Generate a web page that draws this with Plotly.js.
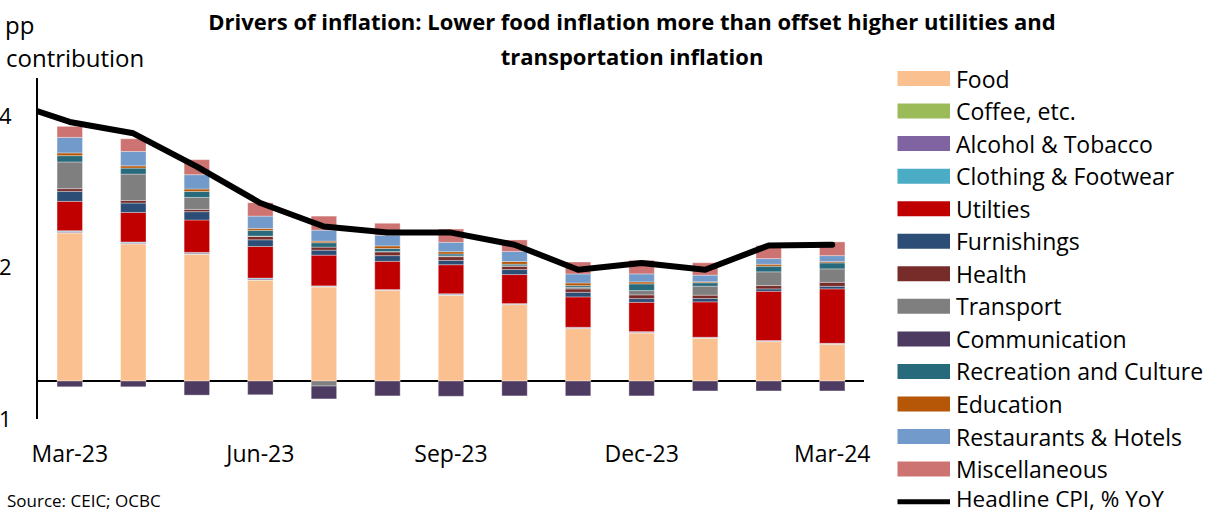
<!DOCTYPE html>
<html>
<head>
<meta charset="utf-8">
<script src="https://cdn.plot.ly/plotly-3.0.1.min.js"></script>
<style>
  body { margin: 0; padding: 0; background: #fff; }
  #chart { width: 1209px; height: 513px; }
  .scatterlayer .js-line { stroke-linecap: round !important; stroke-linejoin: round !important; }
</style>
</head>
<body>
<div id="chart"></div>
<script>
// ---- Data (pp contribution) ----
const categories = ["Mar-23","Apr-23","May-23","Jun-23","Jul-23","Aug-23","Sep-23","Oct-23","Nov-23","Dec-23","Jan-24","Feb-24","Mar-24"];
const cpiMonths = ["Feb-23","Mar-23","Apr-23","May-23","Jun-23","Jul-23","Aug-23","Sep-23","Oct-23","Nov-23","Dec-23","Jan-24","Feb-24","Mar-24"];
const tickLabels = ["Mar-23","Jun-23","Sep-23","Dec-23","Mar-24"];
const yTickVals = [-0.5, 1.5, 3.5];
const yTickText = ["1", "2", "4"];

const food          = [1.955, 1.810, 1.673, 1.330, 1.243, 1.198, 1.132, 1.009, 0.693, 0.636, 0.565, 0.521, 0.485];
const coffee        = [0.005, 0.005, 0.005, 0.005, 0.003, 0.002, 0.004, 0.003, 0.003, 0.003, 0.003, 0.003, 0.003];
const alcohol       = [0.015, 0.013, 0.013, 0.015, 0.007, 0.005, 0.011, 0.007, 0.009, 0.009, 0.007, 0.007, 0.007];
const clothing      = [0.010, 0.008, 0.008, 0.010, 0.004, 0.003, 0.006, 0.004, 0.005, 0.005, 0.004, 0.004, 0.004];
const utilities     = [0.387, 0.390, 0.427, 0.417, 0.405, 0.373, 0.383, 0.383, 0.401, 0.387, 0.467, 0.650, 0.718];
const furnishings   = [0.132, 0.124, 0.110, 0.088, 0.066, 0.075, 0.057, 0.066, 0.061, 0.049, 0.044, 0.032, 0.034];
const health        = [0.036, 0.034, 0.030, 0.044, 0.040, 0.049, 0.049, 0.044, 0.045, 0.049, 0.044, 0.044, 0.053];
const transport     = [0.352, 0.348, 0.158, 0.005, -0.065, 0.005, 0.010, 0.005, 0.021, 0.057, 0.119, 0.181, 0.177];
const communication = [-0.075, -0.075, -0.185, -0.180, -0.170, -0.195, -0.200, -0.195, -0.195, -0.195, -0.130, -0.130, -0.130];
const recreation    = [0.083, 0.079, 0.079, 0.075, 0.058, 0.040, 0.026, 0.022, 0.022, 0.088, 0.045, 0.074, 0.079];
const education     = [0.036, 0.030, 0.032, 0.026, 0.021, 0.034, 0.030, 0.035, 0.035, 0.026, 0.013, 0.026, 0.017];
const restaurants   = [0.206, 0.189, 0.189, 0.162, 0.145, 0.141, 0.124, 0.132, 0.119, 0.106, 0.087, 0.075, 0.079];
const misc          = [0.145, 0.168, 0.198, 0.177, 0.185, 0.158, 0.175, 0.153, 0.158, 0.179, 0.164, 0.172, 0.181];
const headlineCPI   = [3.70, 3.42, 3.27, 2.83, 2.35, 2.04, 1.96, 1.96, 1.80, 1.47, 1.56, 1.47, 1.79, 1.80];

const seriesNames = ["Food","Coffee, etc.","Alcohol & Tobacco","Clothing & Footwear","Utilties","Furnishings","Health","Transport","Communication","Recreation and Culture","Education","Restaurants & Hotels","Miscellaneous"];
const seriesValues = [food, coffee, alcohol, clothing, utilities, furnishings, health, transport, communication, recreation, education, restaurants, misc];
const seriesColors = ["#FAC090","#9BBB59","#8064A2","#4BACC6","#C00000","#2C4D75","#772C2A","#7F7F7F","#4E3B62","#276A7C","#B65708","#729ACA","#CD7372"];
const lineName = "Headline CPI, % YoY";

// ---- Geometry ----
const W = 1209, H = 513;
const M = {l: 38, r: 345, t: 78, b: 94};
const FONT = "Open Sans, Noto Sans, sans-serif";
const pw = W - M.l - M.r, ph = H - M.t - M.b;
const px2x = px => (px - M.l) / pw;
const px2y = py => (H - M.b - py) / ph;

const traces = seriesNames.map((name, i) => ({
  type: "bar",
  name: name,
  x: categories,
  y: seriesValues[i],
  marker: {color: seriesColors[i], line: {color: "rgba(255,255,255,0.55)", width: 0.6}},
  showlegend: false,
  hoverinfo: "name+y"
}));
traces.push({
  type: "scatter",
  mode: "lines",
  name: lineName,
  x: cpiMonths,
  y: headlineCPI,
  line: {color: "#000000", width: 6},
  showlegend: false
});

// ---- Custom legend ----
const shapes = [];
const annotations = [];
const legX0 = 897.5, legX1 = 950, legTextX = 954, legY0 = 78.5, legStep = 32.55;
seriesNames.forEach((name, i) => {
  const yc = legY0 + i * legStep;
  shapes.push({type: "rect", xref: "paper", yref: "paper",
    x0: px2x(legX0), x1: px2x(legX1), y0: px2y(yc + 7.5), y1: px2y(yc - 7.5),
    fillcolor: seriesColors[i], line: {width: 0}});
  annotations.push({xref: "paper", yref: "paper", x: px2x(legTextX), y: px2y(yc),
    xanchor: "left", yanchor: "middle", showarrow: false, text: name,
    font: {family: FONT, size: 23, color: "#000"}});
});
{
  const yc = legY0 + seriesNames.length * legStep;
  shapes.push({type: "line", xref: "paper", yref: "paper",
    x0: px2x(legX0), x1: px2x(legX1), y0: px2y(yc), y1: px2y(yc),
    line: {color: "#000", width: 5}});
  annotations.push({xref: "paper", yref: "paper", x: px2x(legTextX), y: px2y(498),
    xanchor: "left", yanchor: "middle", showarrow: false, text: lineName,
    font: {family: FONT, size: 22.5, color: "#000"}});
}
annotations.push({xref: "paper", yref: "paper", x: px2x(3), y: px2y(25),
  xanchor: "left", yanchor: "middle", showarrow: false, text: "pp",
  font: {family: FONT, size: 24, color: "#000"}});
annotations.push({xref: "paper", yref: "paper", x: px2x(4), y: px2y(57),
  xanchor: "left", yanchor: "middle", showarrow: false, text: "contribution",
  font: {family: FONT, size: 24, color: "#000"}});
annotations.push({xref: "paper", yref: "paper", x: px2x(5), y: px2y(500),
  xanchor: "left", yanchor: "middle", showarrow: false, text: "Source: CEIC; OCBC",
  font: {family: FONT, size: 17, color: "#000"}});

const layout = {
  width: W, height: H,
  margin: M,
  paper_bgcolor: "#fff", plot_bgcolor: "#fff",
  font: {family: FONT, color: "#000"},
  title: {
    text: "<b>Drivers of inflation: Lower food inflation more than offset higher utilities and<br>transportation inflation</b>",
    font: {family: FONT, size: 22, color: "#000"},
    xref: "container", yref: "container",
    x: 632 / W, xanchor: "center",
    y: 1 - 30 / H, yanchor: "top"
  },
  barmode: "relative",
  bargap: 0.6,
  showlegend: false,
  xaxis: {
    type: "category",
    categoryorder: "array", categoryarray: cpiMonths,
    range: [0.5, 13.5],
    tickvals: tickLabels,
    ticks: "", showline: false, showgrid: false, zeroline: false,
    tickfont: {family: FONT, size: 23, color: "#000"},
    ticklabelstandoff: 19,
    automargin: false, fixedrange: true
  },
  yaxis: {
    range: [-0.5, 4.0],
    tickvals: yTickVals, ticktext: yTickText,
    ticks: "", showline: true, linecolor: "#000", linewidth: 2,
    showgrid: false,
    zeroline: true, zerolinecolor: "#000", zerolinewidth: 2,
    tickfont: {family: FONT, size: 22, color: "#000"},
    ticklabelstandoff: 20,
    automargin: false, fixedrange: true
  },
  shapes: shapes,
  annotations: annotations
};

Plotly.newPlot("chart", traces, layout, {displayModeBar: false, staticPlot: true}).then(() => {
  const lines = document.querySelectorAll(".gtitle tspan.line");
  if (lines.length > 1) lines[1].setAttribute("dy", "35");
});
</script>
</body>
</html>
